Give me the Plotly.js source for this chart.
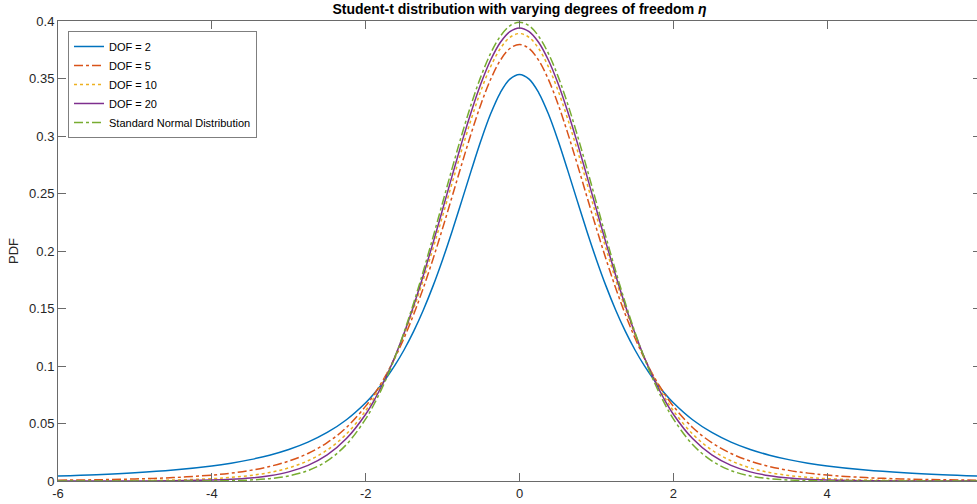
<!DOCTYPE html>
<html>
<head>
<meta charset="utf-8">
<script src="https://cdn.plot.ly/plotly-3.0.1.min.js"></script>
<style>
html,body{margin:0;padding:0;overflow:hidden;background:#fff;}
#chart{width:990px;height:504px;}
</style>
</head>
<body>
<div id="chart"></div>
<script>
// x positions (t values)
const xVals = [-6,-5.5,-5,-4.5,-4,-3.75,-3.5,-3.25,-3,-2.75,-2.5,-2.25,-2,
  -1.875,-1.75,-1.625,-1.5,-1.375,-1.25,-1.125,-1,-0.875,-0.75,-0.625,-0.5,-0.375,-0.25,-0.125,
  0,
  0.125,0.25,0.375,0.5,0.625,0.75,0.875,1,1.125,1.25,1.375,1.5,1.625,1.75,1.875,
  2,2.25,2.5,2.75,3,3.25,3.5,3.75,4,4.5,5,5.5,6];

const dof2 = [0.00427,0.00546,0.00713,0.00953,0.01309,0.01553,0.01859,0.02246,0.02741,0.03382,0.04220,0.05328,0.06804,
  0.07720,0.08779,0.10003,0.11413,0.13031,0.14872,0.16945,0.19245,0.21742,0.24378,0.27054,0.29630,0.31929,0.33760,0.34945,
  0.35355,
  0.34945,0.33760,0.31929,0.29630,0.27054,0.24378,0.21742,0.19245,0.16945,0.14872,0.13031,0.11413,0.10003,0.08779,0.07720,
  0.06804,0.05328,0.04220,0.03382,0.02741,0.02246,0.01859,0.01553,0.01309,0.00953,0.00713,0.00546,0.00427];

const dof5 = [0.00069,0.00108,0.00176,0.00295,0.00512,0.00685,0.00924,0.01259,0.01729,0.02393,0.03333,0.04657,0.06509,
  0.07684,0.09054,0.10638,0.12452,0.14503,0.16789,0.19291,0.21968,0.24757,0.27570,0.30292,0.32792,0.34930,0.36572,0.37607,
  0.37961,
  0.37607,0.36572,0.34930,0.32792,0.30292,0.27570,0.24757,0.21968,0.19291,0.16789,0.14503,0.12452,0.10638,0.09054,0.07684,
  0.06509,0.04657,0.03333,0.02393,0.01729,0.01259,0.00924,0.00685,0.00512,0.00295,0.00176,0.00108,0.00069];

const dof10 = [0.00009,0.00018,0.00040,0.00088,0.00203,0.00311,0.00478,0.00738,0.01140,0.01757,0.02694,0.04090,0.06114,
  0.07421,0.08953,0.10724,0.12745,0.15012,0.17510,0.20203,0.23037,0.25933,0.28797,0.31517,0.33969,0.36034,0.37600,0.38578,
  0.38911,
  0.38578,0.37600,0.36034,0.33969,0.31517,0.28797,0.25933,0.23037,0.20203,0.17510,0.15012,0.12745,0.10724,0.08953,0.07421,
  0.06114,0.04090,0.02694,0.01757,0.01140,0.00738,0.00478,0.00311,0.00203,0.00088,0.00040,0.00018,0.00009];

const dof20 = [0.00001,0.00002,0.00008,0.00025,0.00082,0.00147,0.00261,0.00459,0.00796,0.01358,0.02267,0.03687,0.05808,
  0.07195,0.08826,0.10714,0.12863,0.15261,0.17884,0.20686,0.23605,0.26556,0.29444,0.32157,0.34580,0.36604,0.38128,0.39077,
  0.39398,
  0.39077,0.38128,0.36604,0.34580,0.32157,0.29444,0.26556,0.23605,0.20686,0.17884,0.15261,0.12863,0.10714,0.08826,0.07195,
  0.05808,0.03687,0.02267,0.01358,0.00796,0.00459,0.00261,0.00147,0.00082,0.00025,0.00008,0.00002,0.00001];

const stdNormal = [0.00000,0.00000,0.00000,0.00002,0.00013,0.00035,0.00087,0.00203,0.00443,0.00909,0.01753,0.03174,0.05399,
  0.06879,0.08628,0.10654,0.12952,0.15501,0.18265,0.21188,0.24197,0.27206,0.30114,0.32816,0.35207,0.37186,0.38667,0.39584,
  0.39894,
  0.39584,0.38667,0.37186,0.35207,0.32816,0.30114,0.27206,0.24197,0.21188,0.18265,0.15501,0.12952,0.10654,0.08628,0.06879,
  0.05399,0.03174,0.01753,0.00909,0.00443,0.00203,0.00087,0.00035,0.00013,0.00002,0.00000,0.00000,0.00000];

const seriesNames = ["DOF = 2","DOF = 5","DOF = 10","DOF = 20","Standard Normal Distribution"];

const xTickVals = [-6,-4,-2,0,2,4];
const xTickText = ["-6","-4","-2","0","2","4"];
const yTickVals = [0,0.05,0.1,0.15,0.2,0.25,0.3,0.35,0.4];
const yTickText = ["0","0.05","0.1","0.15","0.2","0.25","0.3","0.35","0.4"];

const colors = ["#0072BD","#D95319","#EDB120","#7E2F8E","#77AC30"];
const dashes = ["solid","dashdot","dot","solid","dashdot"];
const ys = [dof2, dof5, dof10, dof20, stdNormal];

const traces = ys.map((y,i)=>({
  x: xVals, y: y, type: "scatter", mode: "lines", name: seriesNames[i],
  line: {color: colors[i], width: 1.5, dash: dashes[i], shape: "spline", smoothing: 1}
}));

const W = 990, H = 504;
const axisColor = "#6a6a6a";
const font = "Liberation Sans, Arial, Helvetica, sans-serif";

const layout = {
  width: W, height: H,
  margin: {l: 57.7, r: W - 980.7, t: 20.7, b: H - 481.3, pad: 0},
  paper_bgcolor: "#fff", plot_bgcolor: "#fff",
  font: {family: font, size: 13, color: "#262626"},
  title: {text: "<b>Student-t distribution with varying degrees of freedom <i>η</i></b>",
    font: {family: font, size: 14, color: "#000"},
    xref: "paper", x: 0.5, xanchor: "center",
    yref: "container", y: 1 - 9.5/H, yanchor: "middle"},
  xaxis: {range: [-6, 6], tickvals: xTickVals, ticktext: xTickText,
    showline: true, linecolor: axisColor, linewidth: 1, mirror: "ticks",
    ticks: "inside", ticklen: 8, tickcolor: axisColor, tickwidth: 1,
    showgrid: false, zeroline: false, tickfont: {size: 13, color: "#262626"}},
  yaxis: {range: [0, 0.4], tickvals: yTickVals, ticktext: yTickText,
    showline: true, linecolor: axisColor, linewidth: 1, mirror: "ticks",
    ticks: "inside", ticklen: 8, tickcolor: axisColor, tickwidth: 1,
    showgrid: false, zeroline: false, tickfont: {size: 13, color: "#262626"},
    title: {text: "PDF", font: {size: 13, color: "#262626"}, standoff: 7}},
  showlegend: true,
  legend: {x: (67.7-57.7)/923, y: (481.3-30.7)/460.6, xanchor: "left", yanchor: "top",
    bgcolor: "#fff", bordercolor: "#7f7f7f", borderwidth: 1,
    font: {family: font, size: 11, color: "#000"}, tracegroupgap: 0}
};

Plotly.newPlot("chart", traces, layout, {staticPlot: true, displayModeBar: false});
</script>
</body>
</html>
